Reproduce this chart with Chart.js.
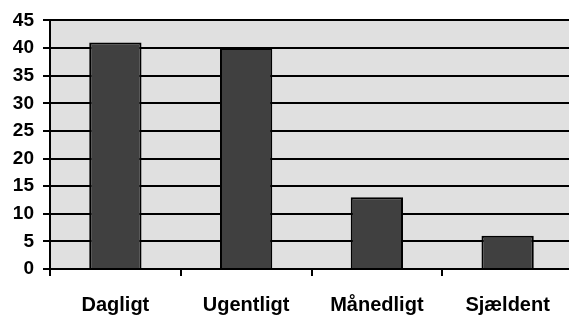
<!DOCTYPE html>
<html><head><meta charset="utf-8">
<script src="https://cdn.jsdelivr.net/npm/chart.js@4/dist/chart.umd.min.js"></script>
<style>
html,body{margin:0;padding:0;overflow:hidden;background:#fff;width:569px;height:316px;}
#wrap{position:absolute;left:0;top:0;width:573px;height:316px;}
</style></head>
<body>
<div id="wrap"><canvas id="c"></canvas></div>
<script>
const categories = ["Dagligt", "Ugentligt", "Månedligt", "Sjældent"];
const values = [41, 40, 13, 6];
const yMin = 0, yMax = 45, yStep = 5;

const bgPlugin = {
  id: 'plotBg',
  beforeDraw(chart) {
    const {ctx, chartArea: a} = chart;
    ctx.save();
    ctx.fillStyle = '#e0e0e0';
    ctx.fillRect(a.left, a.top, a.right - a.left, a.bottom - a.top);
    ctx.restore();
  }
};

new Chart(document.getElementById('c'), {
  type: 'bar',
  data: {
    labels: categories,
    datasets: [{
      data: values,
      backgroundColor: '#404040',
      borderColor: '#000',
      borderWidth: 2,
      barPercentage: 0.4,
      categoryPercentage: 1.0
    }]
  },
  options: {
    responsive: true,
    maintainAspectRatio: false,
    animation: false,
    layout: {padding: {top: 10, right: 0, bottom: 0, left: 0}},
    plugins: {legend: {display: false}, tooltip: {enabled: false}},
    scales: {
      x: {
        offset: true,
        afterFit(scale) { scale.height = 47; },
        grid: {offset: true, drawOnChartArea: false, drawTicks: true, tickLength: 7, color: '#000', lineWidth: 2},
        border: {display: true, color: '#000', width: 2},
        ticks: {color: '#000', padding: 17, maxRotation: 0, font: {family: 'Liberation Sans, Arial', size: 20, weight: 'bold'}}
      },
      y: {
        min: yMin, max: yMax,
        afterFit(scale) { scale.width = 50; },
        grid: {drawOnChartArea: true, drawTicks: true, tickLength: 7, color: '#000', lineWidth: 2},
        border: {display: true, color: '#000', width: 2},
        ticks: {stepSize: yStep, color: '#000', padding: 9, font: {family: 'Liberation Sans, Arial', size: 19, weight: 'bold'}}
      }
    }
  },
  plugins: [bgPlugin]
});
</script>
</body></html>
